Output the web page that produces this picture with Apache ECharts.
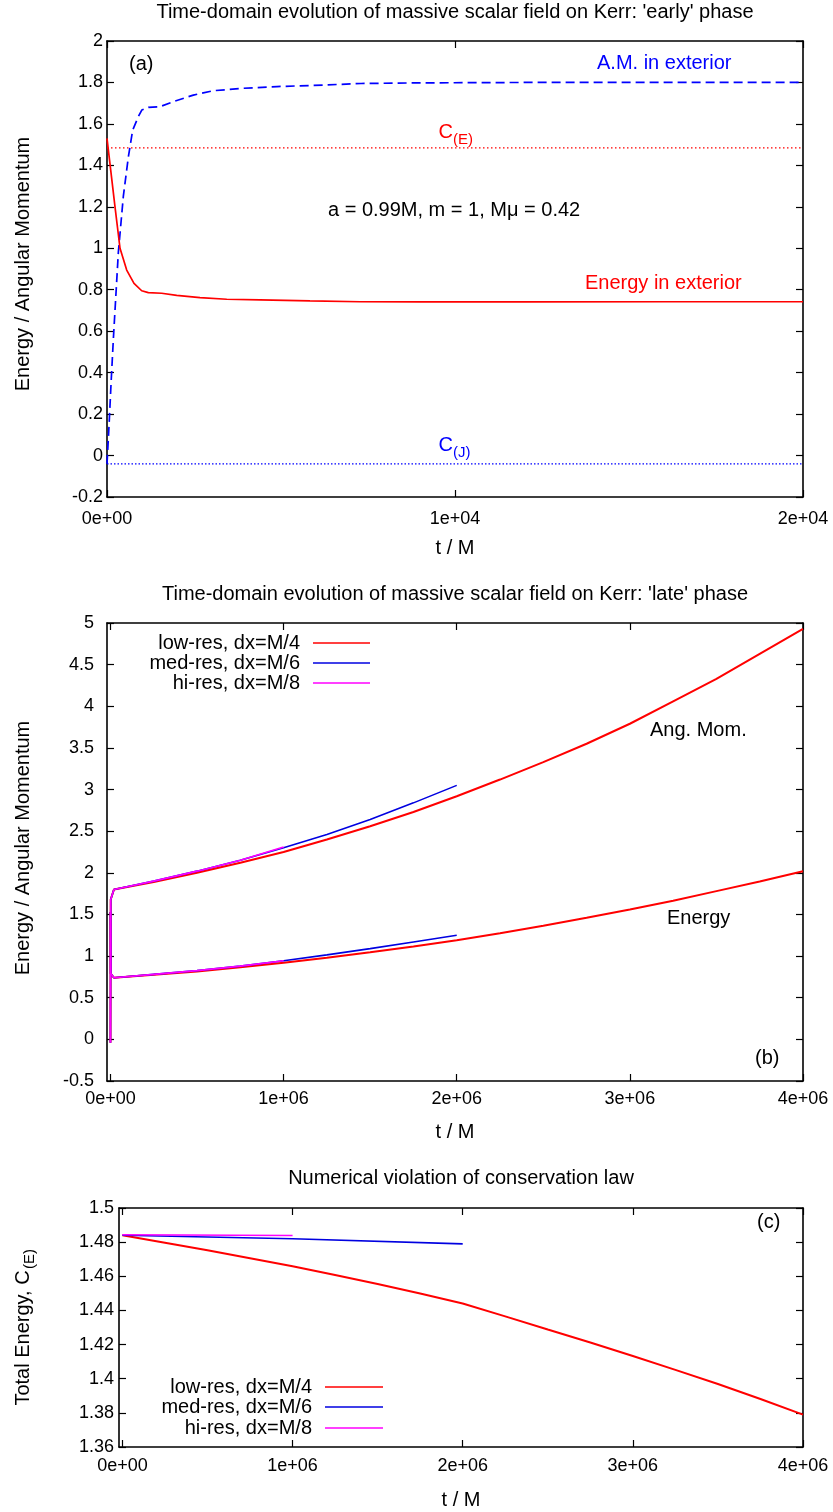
<!DOCTYPE html>
<html>
<head>
<meta charset="utf-8">
<script src="https://cdn.jsdelivr.net/npm/echarts@6/dist/echarts.min.js"></script>
<style>
  html, body { margin: 0; padding: 0; background: #fff; }
  #chart { width: 833px; height: 1512px; }
</style>
</head>
<body>
<div id="chart"></div>
<script>
// ---------- Panel (a): early phase, t in units of M ----------
const amEarlyT = [0, 60, 120, 182, 326, 469, 613, 738, 900, 1000, 1190, 1520, 1900, 2480, 3050, 3920, 4880, 6300, 7300, 9000, 12000, 16000, 20000];
const amEarlyV = [-0.04, 0.15, 0.36, 0.56, 0.98, 1.25, 1.44, 1.57, 1.635, 1.667, 1.68, 1.683, 1.707, 1.739, 1.76, 1.772, 1.78, 1.788, 1.795, 1.798, 1.80, 1.80, 1.80];
const enEarlyT = [0, 230, 374, 566, 776, 997, 1187, 1571, 2003, 2672, 3440, 4397, 5834, 7271, 9000, 12000, 16000, 20000];
const enEarlyV = [1.53, 1.20, 1.00, 0.895, 0.831, 0.795, 0.786, 0.783, 0.773, 0.762, 0.754, 0.751, 0.746, 0.742, 0.741, 0.741, 0.742, 0.742];
const conservedE = 1.484;   // C_(E)
const conservedJ = -0.04;   // C_(J)

// ---------- Panel (b): late phase ----------
const lowT  = [0, 1500, 20000, 250000, 500000, 750000, 1000000, 1250000, 1500000, 1750000, 2000000, 2250000, 2500000, 2750000, 3000000, 3250000, 3500000, 3750000, 4000000];
const lowAM = [-0.04, 1.68, 1.80, 1.89, 2.00, 2.12, 2.25, 2.40, 2.56, 2.73, 2.92, 3.12, 3.33, 3.55, 3.79, 4.06, 4.33, 4.63, 4.93];
const lowE  = [1.53, 0.79, 0.74, 0.775, 0.815, 0.865, 0.92, 0.98, 1.045, 1.115, 1.19, 1.275, 1.365, 1.46, 1.56, 1.665, 1.78, 1.895, 2.02];
const medT  = [0, 1500, 20000, 250000, 500000, 750000, 1000000, 1250000, 1500000, 1750000, 2000000];
const medAM = [-0.04, 1.68, 1.80, 1.90, 2.02, 2.15, 2.30, 2.46, 2.64, 2.84, 3.05];
const medE  = [1.53, 0.79, 0.74, 0.78, 0.825, 0.88, 0.945, 1.015, 1.09, 1.17, 1.25];
const hiT   = [0, 1500, 20000, 250000, 500000, 750000, 1000000];
const hiAM  = [-0.04, 1.68, 1.80, 1.90, 2.02, 2.15, 2.31];
const hiE   = [1.53, 0.79, 0.74, 0.78, 0.825, 0.88, 0.945];

// ---------- Panel (c): total energy C_(E) ----------
const cLowT = [0, 250000, 500000, 750000, 1000000, 1250000, 1500000, 1750000, 2000000, 2250000, 2500000, 2750000, 3000000, 3250000, 3500000, 3750000, 4000000];
const cLowV = [1.484, 1.4797, 1.4752, 1.4706, 1.4659, 1.4608, 1.4555, 1.4499, 1.4441, 1.4365, 1.4288, 1.4212, 1.4133, 1.4052, 1.3969, 1.3881, 1.379];
const cMedT = [0, 1000000, 2000000];
const cMedV = [1.484, 1.482, 1.479];
const cHiT  = [0, 1000000];
const cHiV  = [1.4843, 1.4839];

// ---------- Tick values and labels ----------
const xTicksA = [0, 10000, 20000];
const xLabelsA = ['0e+00', '1e+04', '2e+04'];
const xTicksBC = [0, 1000000, 2000000, 3000000, 4000000];
const xLabelsBC = ['0e+00', '1e+06', '2e+06', '3e+06', '4e+06'];
const yTicksA = [-0.2, 0, 0.2, 0.4, 0.6, 0.8, 1, 1.2, 1.4, 1.6, 1.8, 2];
const yLabelsA = ['-0.2', '0', '0.2', '0.4', '0.6', '0.8', '1', '1.2', '1.4', '1.6', '1.8', '2'];
const yTicksB = [-0.5, 0, 0.5, 1, 1.5, 2, 2.5, 3, 3.5, 4, 4.5, 5];
const yLabelsB = ['-0.5', '0', '0.5', '1', '1.5', '2', '2.5', '3', '3.5', '4', '4.5', '5'];
const yTicksC = [1.36, 1.38, 1.4, 1.42, 1.44, 1.46, 1.48, 1.5];
const yLabelsC = ['1.36', '1.38', '1.4', '1.42', '1.44', '1.46', '1.48', '1.5'];

const seriesNames = ['low-res, dx=M/4', 'med-res, dx=M/6', 'hi-res, dx=M/8'];
const RED = '#ff0000', BLUE = '#0000ff', MAGENTA = '#ff00ff', BLUE_B = '#0000e0';

const FONT = '"Liberation Sans", Arial, Helvetica, sans-serif';
const TICK_FS = 18;
const TEXT_FS = 20;

function pairs(t, v) { return t.map((x, i) => [x, v[i]]); }
function labelFor(ticks, labels) {
  return function (val) {
    for (let i = 0; i < ticks.length; i++) if (Math.abs(ticks[i] - val) < 1e-6 * Math.max(1, Math.abs(ticks[i]))) return labels[i];
    return '';
  };
}
const tickStyle = { inside: true, length: 7, lineStyle: { color: '#000', width: 1.2 } };
const axisLineStyle = { show: true, onZero: false, lineStyle: { color: '#000', width: 1.6 } };

function xPair(gi, min, max, ticks, labels, margin) {
  return [
    { type: 'value', gridIndex: gi, position: 'bottom', min, max,
      axisLine: axisLineStyle, splitLine: { show: false },
      axisTick: Object.assign({ customValues: ticks }, tickStyle),
      axisLabel: { customValues: ticks, formatter: labelFor(ticks, labels), color: '#000', fontSize: TICK_FS, fontFamily: FONT, margin } },
    { type: 'value', gridIndex: gi, position: 'top', min, max,
      axisLine: axisLineStyle, splitLine: { show: false },
      axisTick: Object.assign({ customValues: ticks }, tickStyle),
      axisLabel: { show: false } }
  ];
}
function yPair(gi, min, max, ticks, labels, margin) {
  return [
    { type: 'value', gridIndex: gi, position: 'left', min, max,
      axisLine: axisLineStyle, splitLine: { show: false },
      axisTick: Object.assign({ customValues: ticks }, tickStyle),
      axisLabel: { customValues: ticks, formatter: labelFor(ticks, labels), color: '#000', fontSize: TICK_FS, fontFamily: FONT, margin } },
    { type: 'value', gridIndex: gi, position: 'right', min, max,
      axisLine: axisLineStyle, splitLine: { show: false },
      axisTick: Object.assign({ customValues: ticks }, tickStyle),
      axisLabel: { show: false } }
  ];
}

function line(name, xi, yi, data, color, width, type, z) {
  return { name, type: 'line', xAxisIndex: xi, yAxisIndex: yi, data, showSymbol: false, symbol: 'none',
    silent: true, z: z || 2, lineStyle: { color, width, type: type || 'solid' }, itemStyle: { color } };
}

function txt(x, y, text, opts) {
  opts = opts || {};
  return { type: 'text', x, y, rotation: opts.rotation || 0, z: 100, silent: true,
    style: { text, fill: opts.color || '#000', font: (opts.size || TEXT_FS) + 'px ' + FONT,
      textAlign: opts.align || 'left', align: opts.align || 'left',
      textVerticalAlign: 'middle', verticalAlign: 'middle' } };
}
function legendRow(xTextRight, xLine0, xLine1, y, label, color) {
  return [
    txt(xTextRight, y, label, { align: 'right' }),
    { type: 'line', z: 100, silent: true, shape: { x1: xLine0, y1: y, x2: xLine1, y2: y }, style: { stroke: color, lineWidth: 1.6 } }
  ];
}

const chart = echarts.init(document.getElementById('chart'), null, { renderer: 'canvas' });

const option = {
  animation: false,
  backgroundColor: '#ffffff',
  textStyle: { fontFamily: FONT },
  grid: [
    { left: 107, top: 41, width: 696, height: 456 },
    { left: 107, top: 623, width: 696, height: 458 },
    { left: 119, top: 1208, width: 684, height: 239 }
  ],
  xAxis: [].concat(
    xPair(0, 0, 20000, xTicksA, xLabelsA, 13),
    xPair(1, -20000, 4000000, xTicksBC, xLabelsBC, 9),
    xPair(2, -20000, 4000000, xTicksBC, xLabelsBC, 10)
  ),
  yAxis: [].concat(
    yPair(0, -0.2, 2, yTicksA, yLabelsA, 4),
    yPair(1, -0.5, 5, yTicksB, yLabelsB, 13),
    yPair(2, 1.36, 1.5, yTicksC, yLabelsC, 5)
  ),
  series: [
    // (a)
    line('C_E', 0, 0, [[0, conservedE], [20000, conservedE]], RED, 1.2, [1.5, 2.5], 1),
    line('C_J', 0, 0, [[0, conservedJ], [20000, conservedJ]], BLUE, 1.2, [1.5, 2], 1),
    line('A.M. in exterior', 0, 0, pairs(amEarlyT, amEarlyV), BLUE, 1.7, [9, 5]),
    line('Energy in exterior', 0, 0, pairs(enEarlyT, enEarlyV), RED, 1.7),
    // (b)
    line(seriesNames[0], 2, 2, pairs(lowT, lowAM), RED, 2, 'solid', 2),
    line(seriesNames[0], 2, 2, pairs(lowT, lowE), RED, 2, 'solid', 2),
    line(seriesNames[1], 2, 2, pairs(medT, medAM), BLUE_B, 1.6, 'solid', 3),
    line(seriesNames[1], 2, 2, pairs(medT, medE), BLUE_B, 1.6, 'solid', 3),
    line(seriesNames[2], 2, 2, pairs(hiT, hiAM), MAGENTA, 1.6, 'solid', 4),
    line(seriesNames[2], 2, 2, pairs(hiT, hiE), MAGENTA, 1.6, 'solid', 4),
    // (c)
    line(seriesNames[0], 4, 4, pairs(cLowT, cLowV), RED, 2, 'solid', 2),
    line(seriesNames[1], 4, 4, pairs(cMedT, cMedV), BLUE_B, 1.6, 'solid', 3),
    line(seriesNames[2], 4, 4, pairs(cHiT, cHiV), MAGENTA, 1.6, 'solid', 4)
  ],
  graphic: [].concat(
    [
      // titles, centred over each plot
      txt(455, 12, "Time-domain evolution of massive scalar field on Kerr: 'early' phase", { align: 'center' }),
      txt(455, 594, "Time-domain evolution of massive scalar field on Kerr: 'late' phase", { align: 'center' }),
      txt(461, 1178, 'Numerical violation of conservation law', { align: 'center' }),
      // axis names
      txt(455, 548, 't / M', { align: 'center' }),
      txt(455, 1132, 't / M', { align: 'center' }),
      txt(461, 1500, 't / M', { align: 'center' }),
      txt(23, 264, 'Energy / Angular Momentum', { align: 'center', rotation: Math.PI / 2 }),
      txt(23, 848, 'Energy / Angular Momentum', { align: 'center', rotation: Math.PI / 2 }),
      txt(23, 1338, 'Total Energy, C', { align: 'center', rotation: Math.PI / 2 }),
      txt(30, 1259, '(E)', { align: 'center', rotation: Math.PI / 2, size: 15 }),
      // panel (a) annotations
      txt(129, 64, '(a)'),
      txt(597, 63, 'A.M. in exterior', { color: BLUE }),
      txt(328, 210, 'a = 0.99M, m = 1, M\u03bc = 0.42'),
      txt(585, 283, 'Energy in exterior', { color: RED }),
      txt(453, 132, 'C', { color: RED, align: 'right' }),
      txt(453, 140, '(E)', { color: RED, size: 15 }),
      txt(453, 445, 'C', { color: BLUE, align: 'right' }),
      txt(453, 453, '(J)', { color: BLUE, size: 15 }),
      // panel (b) annotations
      txt(650, 730, 'Ang. Mom.'),
      txt(667, 918, 'Energy'),
      txt(755, 1058, '(b)'),
      // panel (c) annotation
      txt(757, 1222, '(c)')
    ],
    legendRow(300, 313, 370, 643, seriesNames[0], RED),
    legendRow(300, 313, 370, 663, seriesNames[1], BLUE_B),
    legendRow(300, 313, 370, 683, seriesNames[2], MAGENTA),
    legendRow(312, 325, 383, 1387, seriesNames[0], RED),
    legendRow(312, 325, 383, 1407, seriesNames[1], BLUE_B),
    legendRow(312, 325, 383, 1428, seriesNames[2], MAGENTA)
  )
};
chart.setOption(option);
</script>
</body>
</html>
